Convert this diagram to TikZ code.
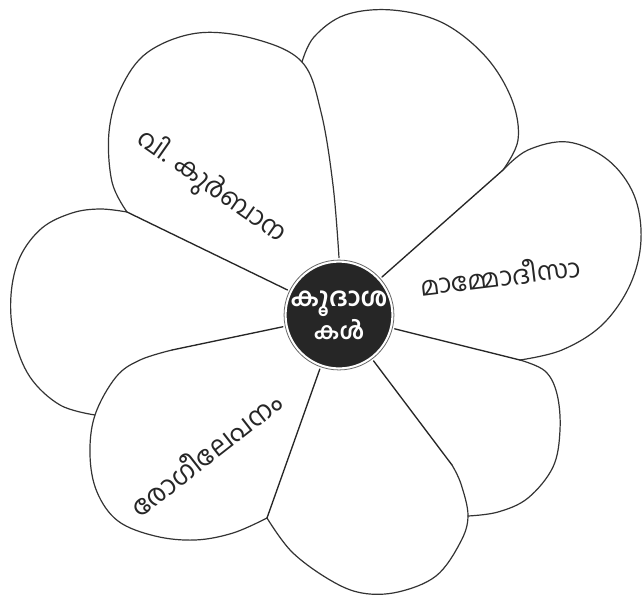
\documentclass[tikz,border=0pt]{standalone}
\usepackage{fontspec}
\usepackage{graphicx}
\newfontfamily\mal[Script=Malayalam]{Hind Kochi}
\tikzset{
  petal/.style={draw=black!80, line width=0.9pt, line join=round, line cap=round},
  radial/.style={draw=black!85, line width=1pt, line cap=round},
  hub/.style={circle, fill=black!85, draw=white, line width=3pt, minimum size=78pt, inner sep=0pt, outer sep=2.2pt, text=white, align=center, font=\mal\bfseries},
  lbl/.style={inner sep=0pt, text=black!85, font=\mal}
}
\begin{document}
\begin{tikzpicture}[x=0.75pt, y=-0.75pt]
\useasboundingbox[fill=white] (0,0) rectangle (643,601);
% hub
\node[hub] (c) at (339,315) {\resizebox{73pt}{!}{കൂദാശ}\\[1pt]\resizebox{38pt}{!}{കൾ}};
\draw[black!60, line width=0.6pt] (c.center) circle[radius=41.2pt];
% junctions
\coordinate (J71) at (127,212);
\coordinate (J12) at (302,62);
\coordinate (J23) at (503,170);
\coordinate (J34) at (520,360);
\coordinate (J45) at (468,516);
\coordinate (K45) at (452,465);
\coordinate (J56) at (267,518);
\coordinate (J67) at (95,415);
\coordinate (K67) at (172,350);
% petals
\draw[petal] plot[smooth, tension=0.6] coordinates {(J71) (112,182) (109,132) (121,88) (148,52) (198,33) (255,39) (J12) (321,112) (333,185) (c.north)};
\draw[petal] plot[smooth, tension=0.6] coordinates {(J12) (314,37) (345,15) (392,10) (443,23) (486,57) (512,100) (518,140) (J23)};
\draw[petal] plot[smooth, tension=0.6] coordinates {(J23) (528,150) (568,142) (608,160) (634,195) (641,240) (630,285) (602,325) (562,350) (J34)};
\draw[petal] plot[smooth, tension=0.6] coordinates {(J34) (545,371) (557,394) (560,430) (553,467) (528,498) (498,512) (J45)};
\draw[petal] plot[smooth, tension=0.6] coordinates {(K45) (461,484) (J45) (460,543) (436,576) (398,592) (362,593) (330,580) (292,552) (J56)};
\draw[petal] plot[smooth, tension=0.6] coordinates {(J56) (233,533) (195,540) (155,536) (118,521) (97,492) (90,455) (J67) (116,377) (140,360) (K67)};
\draw[petal] plot[smooth, tension=0.6] coordinates {(J67) (60,405) (30,377) (14,337) (11,295) (20,257) (42,228) (72,213) (100,209) (J71)};
% radial lines
\draw[radial] (c) -- (J71);
\draw[radial] (c) -- (J23);
\draw[radial] (c) -- (J34);
\draw[radial] (c) -- (K45);
\draw[radial] (c) -- (J56);
\draw[radial] (c) -- (K67);
% labels
\node[lbl, rotate=-35] (l1) at (211,187) {\resizebox{132pt}{!}{വി. കുർബാന}};
\node[lbl, rotate=7] (l2) at (500,275) {\resizebox{121pt}{!}{മാമ്മോദീസാ}};
\node[lbl, rotate=38] (l3) at (205,453) {\resizebox{137pt}{!}{രോഗീലേപനം}};
\end{tikzpicture}
\end{document}
